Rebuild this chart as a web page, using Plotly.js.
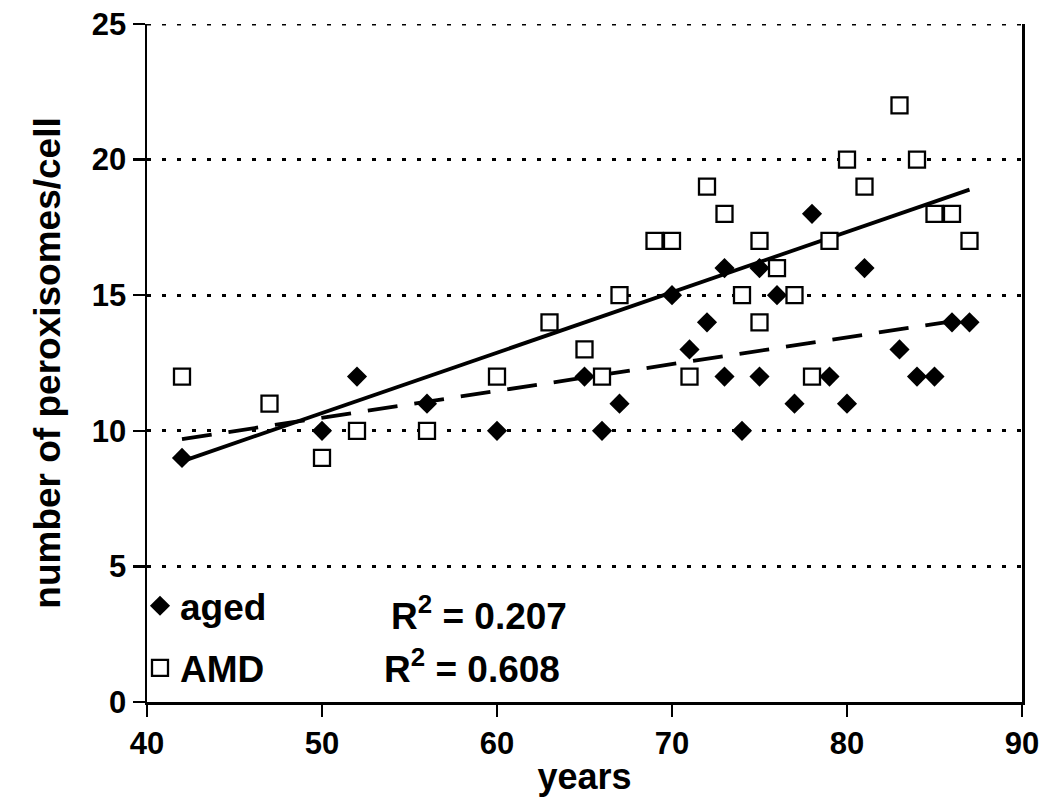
<!DOCTYPE html>
<html>
<head>
<meta charset="utf-8">
<script src="https://cdn.plot.ly/plotly-3.0.1.min.js"></script>
<style>html,body{margin:0;padding:0;background:#fff;}#chart{width:1063px;height:802px;}</style>
</head>
<body>
<div id="chart"></div>
<script>
// aged (filled diamonds)
const agedYears = [42, 50, 52, 56, 60, 65, 66, 67, 70, 71, 72, 73, 73, 74, 75, 75, 76, 77, 78, 79, 80, 81, 83, 84, 85, 86, 87];
const agedCounts = [9, 10, 12, 11, 10, 12, 10, 11, 15, 13, 14, 16, 12, 10, 16, 12, 15, 11, 18, 12, 11, 16, 13, 12, 12, 14, 14];
// AMD (open squares)
const amdYears = [42, 47, 50, 52, 56, 60, 63, 65, 66, 67, 69, 70, 71, 72, 73, 74, 75, 75, 76, 77, 78, 79, 80, 81, 83, 84, 85, 86, 87];
const amdCounts = [12, 11, 9, 10, 10, 12, 14, 13, 12, 15, 17, 17, 12, 19, 18, 15, 17, 14, 16, 15, 12, 17, 20, 19, 22, 20, 18, 18, 17];
const rSquaredLabels = ["R<sup>2</sup> = 0.207", "R<sup>2</sup> = 0.608"];
const xTicks = [40, 50, 60, 70, 80, 90];
const yTicks = [0, 5, 10, 15, 20, 25];

function linFit(xs, ys) {
  const n = xs.length;
  const mx = xs.reduce((a, b) => a + b, 0) / n;
  const my = ys.reduce((a, b) => a + b, 0) / n;
  let sxy = 0, sxx = 0;
  for (let i = 0; i < n; i++) { sxy += (xs[i] - mx) * (ys[i] - my); sxx += (xs[i] - mx) ** 2; }
  const b = sxy / sxx, a = my - b * mx;
  const x0 = Math.min(...xs), x1 = Math.max(...xs);
  return { x: [x0, x1], y: [a + b * x0, a + b * x1] };
}
const agedFit = linFit(agedYears, agedCounts);
const amdFit = linFit(amdYears, amdCounts);

const FONT = "Liberation Sans, Arial, Helvetica, sans-serif";

const traces = [
  { x: agedFit.x, y: agedFit.y, mode: "lines", showlegend: false, hoverinfo: "skip",
    line: { color: "#000", width: 3.8, dash: "30px,17px" } },
  { x: amdFit.x, y: amdFit.y, mode: "lines", showlegend: false, hoverinfo: "skip",
    line: { color: "#000", width: 3.8 } },
  { x: agedYears, y: agedCounts, mode: "markers", name: "aged", legendgroup: "a",
    marker: { symbol: "diamond", size: 15.5, color: "#000", line: { width: 0 } } },
  { x: amdYears, y: amdCounts, mode: "markers", name: "AMD", legendgroup: "b",
    marker: { symbol: "square", size: 16, color: "#fff", line: { width: 2.3, color: "#000" } } }
];

const layout = {
  width: 1063, height: 802,
  margin: { l: 147, r: 41, t: 24, b: 100 },
  paper_bgcolor: "#fff", plot_bgcolor: "#fff",
  font: { family: FONT, color: "#000", size: 30, weight: "bold" },
  showlegend: true,
  legend: {
    x: -0.008, y: 0.187, xanchor: "left", yanchor: "top",
    bgcolor: "rgba(0,0,0,0)", font: { family: FONT, size: 37, weight: "bold", color: "#000" },
    tracegroupgap: 11, itemwidth: 30
  },
  xaxis: {
    range: [40, 90], tickvals: xTicks, ticktext: xTicks.map(String),
    showgrid: false, zeroline: false, showline: true, linecolor: "#000", linewidth: 2.5,
    ticks: "outside", ticklen: 12, tickwidth: 2.5, tickcolor: "#000",
    tickfont: { family: FONT, size: 31, weight: "bold", color: "#000" },
    title: { text: "years", standoff: 4, font: { family: FONT, size: 36, weight: "bold", color: "#000" } }
  },
  yaxis: {
    range: [0, 25], tickvals: yTicks, ticktext: yTicks.map(String),
    showgrid: true, gridcolor: "#000", gridwidth: 3, griddash: "4px,11px",
    zeroline: false, showline: true, linecolor: "#000", linewidth: 2.5, mirror: true,
    ticks: "outside", ticklen: 12, tickwidth: 2.5, tickcolor: "#000",
    tickfont: { family: FONT, size: 31, weight: "bold", color: "#000" },
    title: { text: "number of peroxisomes/cell", standoff: 20, font: { family: FONT, size: 37, weight: "bold", color: "#000" } }
  },
  shapes: [
    { type: "line", xref: "x", yref: "y", x0: 40, x1: 90, y0: 25, y1: 25,
      line: { color: "#000", width: 3, dash: "4px,11px" } }
  ],
  annotations: [
    { x: 53.8, y: 3.25, xref: "x", yref: "y", xanchor: "left", yanchor: "middle", showarrow: false,
      text: rSquaredLabels[0], font: { family: FONT, size: 37, weight: "bold", color: "#000" } },
    { x: 53.4, y: 1.3, xref: "x", yref: "y", xanchor: "left", yanchor: "middle", showarrow: false,
      text: rSquaredLabels[1], font: { family: FONT, size: 37, weight: "bold", color: "#000" } }
  ]
};

Plotly.newPlot("chart", traces, layout, { staticPlot: true, displayModeBar: false });
</script>
</body>
</html>
